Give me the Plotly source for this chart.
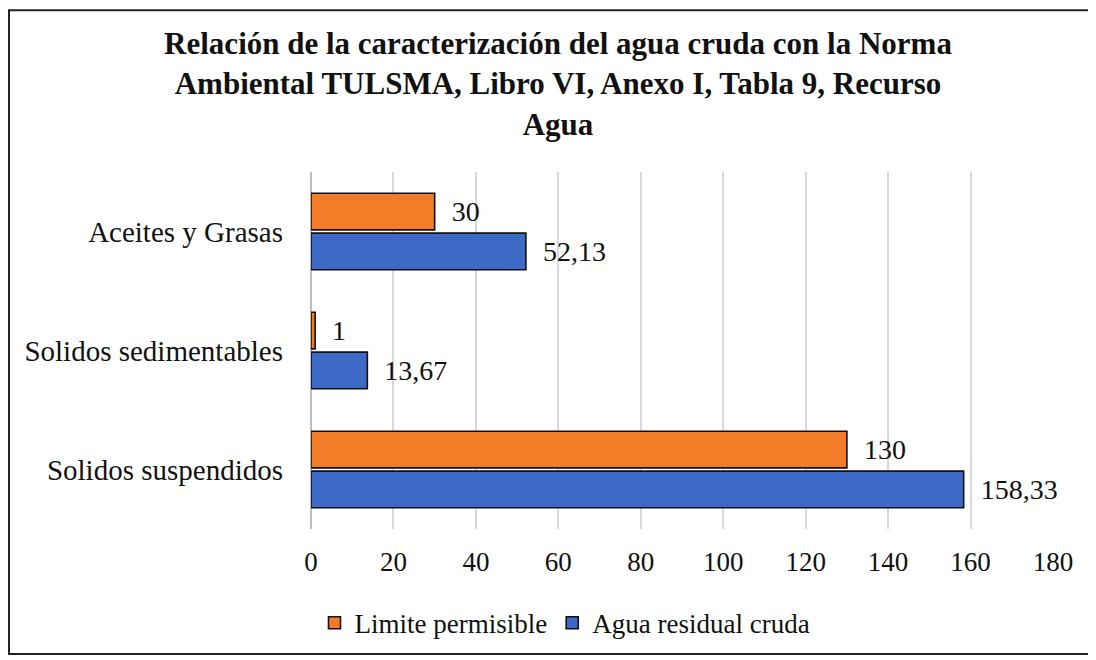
import plotly.graph_objects as go

categories = ["Solidos suspendidos", "Solidos sedimentables", "Aceites y Grasas"]
agua_cruda = [158.33, 13.67, 52.13]
limite = [130, 1, 30]
x_ticks = [0, 20, 40, 60, 80, 100, 120, 140, 160, 180]

serif = "Liberation Serif"
orange = "#F27C28"
blue = "#3C6AC6"

# page has an 8px body margin, so work in page pixels minus 8
W, H = 1088, 652
L, R, T, B = 303, 43, 164, 128
pw, ph = W - L - R, H - T - B

fig = go.Figure()
fig.add_trace(go.Bar(
    y=categories, x=agua_cruda, orientation="h", name="Agua residual cruda",
    marker=dict(color=blue, line=dict(color="#111111", width=1.6)),
    texttemplate="\u00a0\u00a0%{x}", textposition="outside", cliponaxis=False,
    textfont=dict(family=serif, size=28, color="#111111"),
))
fig.add_trace(go.Bar(
    y=categories, x=limite, orientation="h", name="Limite permisible",
    marker=dict(color=orange, line=dict(color="#111111", width=1.6)),
    texttemplate="\u00a0\u00a0%{x}", textposition="outside", cliponaxis=False,
    textfont=dict(family=serif, size=28, color="#111111"),
))

fig.update_layout(
    width=W, height=H,
    margin=dict(l=L, r=R, t=T, b=B),
    paper_bgcolor="white", plot_bgcolor="white",
    separators=",.",
    barmode="group", bargap=0.33, bargroupgap=0.08,
    font=dict(family=serif, size=27, color="#111111"),
    title=dict(
        text="<b>Relación de la caracterización del agua cruda con la Norma<br>"
             "Ambiental TULSMA, Libro VI, Anexo I, Tabla 9, Recurso<br>Agua</b>",
        x=550 / W, xanchor="center", y=1 - 46 / H, yanchor="top",
        font=dict(family=serif, size=31, color="#111111"),
    ),
    xaxis=dict(
        range=[0, 180], tickvals=x_ticks, showgrid=True, gridcolor="#D9D9D9",
        gridwidth=1.5, zeroline=True, zerolinecolor="#BFBFBF", zerolinewidth=2,
        showline=False, ticks="", tickfont=dict(size=27), ticklabelstandoff=14,
    ),
    yaxis=dict(
        categoryorder="array", categoryarray=categories, showgrid=False,
        showline=False, ticks="", ticklabelstandoff=27, tickfont=dict(size=29),
    ),
    showlegend=True,
    legend=dict(
        orientation="h", traceorder="reversed", x=(557 - L) / pw, xanchor="center",
        y=-(619 - (H - B)) / ph, yanchor="middle", font=dict(size=27),
        itemwidth=30, tracegroupgap=0,
    ),
    shapes=[dict(
        type="rect", xref="paper", yref="paper",
        x0=(1 - L) / pw, x1=(W - 2 - L) / pw,
        y0=-(H - 2 - (H - B)) / ph, y1=1 + (T - 1) / ph,
        line=dict(color="#222222", width=2), fillcolor="rgba(0,0,0,0)", layer="below",
    )],
)

fig.write_html("out.html")
